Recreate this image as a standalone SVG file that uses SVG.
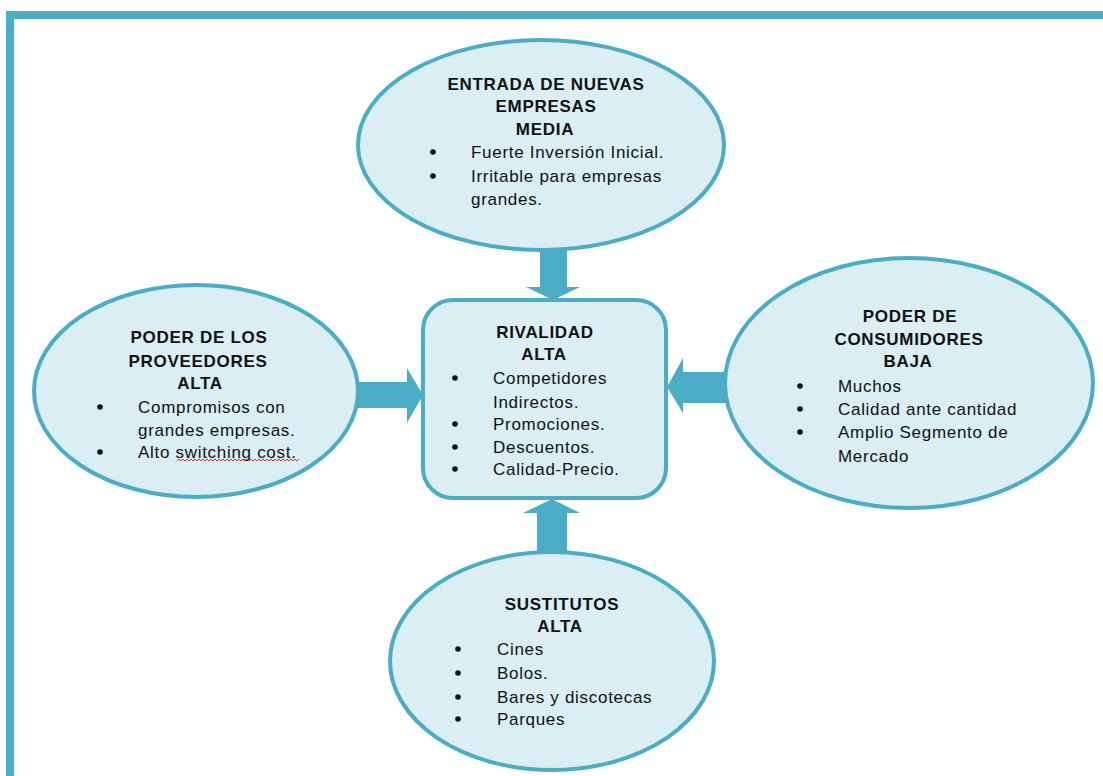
<svg xmlns="http://www.w3.org/2000/svg" width="1103" height="776" viewBox="0 0 1103 776">
<style>
.node{fill:#DAEEF3;stroke:#4BACC6;stroke-width:4}
.arrow{fill:#4BACC6;stroke:none}
.frame{fill:#4BACC6}
.b{fill:#111111}
text{font-family:"Liberation Sans",Arial,sans-serif;font-size:17px;fill:#111111;letter-spacing:0.7px}
.h{font-weight:bold;text-anchor:middle}
</style>
<rect width="1103" height="776" fill="#ffffff"/>
<g id="frame">
<rect class="frame" x="6" y="11" width="1097" height="8"/>
<rect class="frame" x="6" y="11" width="8" height="765"/>
</g>
<g id="connectors">
<polygon class="arrow" points="540,235 567,235 567,287 580,287 553,300 526,287 540,287"/>
<polygon class="arrow" points="345,382 407,382 407,368 423,395 407,423 407,408 345,408"/>
<polygon class="arrow" points="745,372 683,372 683,358 667,387 683,413 683,403 745,403"/>
<polygon class="arrow" points="537,565 537,513 523,513 552,499 580,513 567,513 567,565"/>
</g>
<g id="entrada">
<ellipse class="node" cx="541" cy="145" rx="183" ry="105"/>
<text class="h" x="546" y="90">ENTRADA DE NUEVAS</text>
<text class="h" x="546" y="112">EMPRESAS</text>
<text class="h" x="545" y="135">MEDIA</text>
<circle class="b" cx="433" cy="152" r="2.8"/><text x="471" y="158">Fuerte Inversión Inicial.</text>
<circle class="b" cx="433" cy="176" r="2.8"/><text x="471" y="182">Irritable para empresas</text>
<text x="471" y="205">grandes.</text>
</g>
<g id="proveedores">
<ellipse class="node" cx="196" cy="391" rx="162" ry="106"/>
<text class="h" x="199" y="343">PODER DE LOS</text>
<text class="h" x="198" y="367">PROVEEDORES</text>
<text class="h" x="200" y="389">ALTA</text>
<circle class="b" cx="100" cy="407" r="2.8"/><text x="138" y="413">Compromisos con</text>
<text x="138" y="436">grandes empresas.</text>
<circle class="b" cx="100" cy="452" r="2.8"/><text x="138" y="458">Alto switching cost.</text>
<path d="M177,461 l2,-2 l2,2 l2,-2 l2,2 l2,-2 l2,2 l2,-2 l2,2 l2,-2 l2,2 l2,-2 l2,2 l2,-2 l2,2 l2,-2 l2,2 l2,-2 l2,2 l2,-2 l2,2 l2,-2 l2,2 l2,-2 l2,2 l2,-2 l2,2 l2,-2 l2,2 l2,-2 l2,2 l2,-2 l2,2 l2,-2 l2,2 l2,-2 l2,2 l2,-2 l2,2 l2,-2 l2,2 l2,-2 l2,2 l2,-2 l2,2 l2,-2 l2,2 l2,-2 l2,2 l2,-2 l2,2 l2,-2 l2,2 l2,-2 l2,2 l2,-2 l2,2 l2,-2 l2,2 l2,-2 l2,2 l2,-2" fill="none" stroke="#e03030" stroke-width="1"/>
</g>
<g id="rivalidad">
<rect class="node" x="423" y="300" width="243" height="198" rx="30" ry="30"/>
<text class="h" x="545" y="338">RIVALIDAD</text>
<text class="h" x="544" y="360">ALTA</text>
<circle class="b" cx="455" cy="378" r="2.8"/><text x="493" y="384">Competidores</text>
<text x="493" y="408">Indirectos.</text>
<circle class="b" cx="455" cy="424" r="2.8"/><text x="493" y="430">Promociones.</text>
<circle class="b" cx="455" cy="447" r="2.8"/><text x="493" y="453">Descuentos.</text>
<circle class="b" cx="455" cy="469" r="2.8"/><text x="493" y="475">Calidad-Precio.</text>
</g>
<g id="consumidores">
<ellipse class="node" cx="909" cy="383" rx="184" ry="125"/>
<text class="h" x="910" y="322">PODER DE</text>
<text class="h" x="909" y="345">CONSUMIDORES</text>
<text class="h" x="908" y="367">BAJA</text>
<circle class="b" cx="800" cy="386" r="2.8"/><text x="838" y="392">Muchos</text>
<circle class="b" cx="800" cy="409" r="2.8"/><text x="838" y="415">Calidad ante cantidad</text>
<circle class="b" cx="800" cy="432" r="2.8"/><text x="838" y="438">Amplio Segmento de</text>
<text x="838" y="462">Mercado</text>
</g>
<g id="sustitutos">
<ellipse class="node" cx="552" cy="661" rx="162" ry="109"/>
<text class="h" x="562" y="610">SUSTITUTOS</text>
<text class="h" x="560" y="632">ALTA</text>
<circle class="b" cx="458" cy="649" r="2.8"/><text x="497" y="655">Cines</text>
<circle class="b" cx="458" cy="673" r="2.8"/><text x="497" y="679">Bolos.</text>
<circle class="b" cx="458" cy="697" r="2.8"/><text x="497" y="703">Bares y discotecas</text>
<circle class="b" cx="458" cy="719" r="2.8"/><text x="497" y="725">Parques</text>
</g>
</svg>
